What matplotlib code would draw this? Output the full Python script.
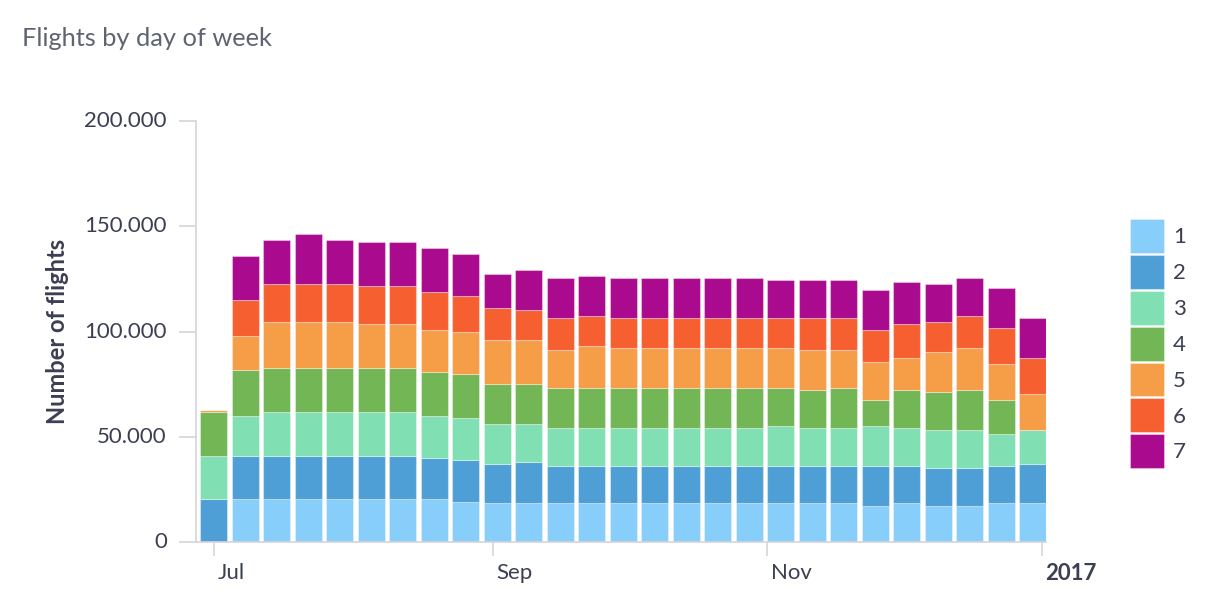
import numpy as np
import pandas as pd
import matplotlib
matplotlib.use("Agg")
import matplotlib.pyplot as plt
import matplotlib.dates as mdates
import matplotlib.transforms as mtrans
from matplotlib.ticker import FuncFormatter


#Data: weekly flight counts split by day of week (1..7)
weeks = pd.date_range("2016-07-01", periods=27, freq="7D")
days = ["1", "2", "3", "4", "5", "6", "7"]

day1 = [0, 20300, 20300, 20300, 20300, 20300, 20300, 20300, 19200, 18300, 18400, 18400, 18400, 18400,
        18400, 18400, 18400, 18400, 18400, 18400, 18400, 17300, 18400, 17300, 17300, 18400, 18400]
day2 = [20300, 20700, 20700, 20700, 20700, 20700, 20700, 19800, 19900, 18900, 19700, 17800, 17800, 17800,
        17800, 17800, 17800, 17800, 17800, 17800, 17800, 18900, 17800, 18000, 18000, 17800, 18800]
day3 = [20500, 19000, 20900, 20900, 20900, 20900, 20900, 19900, 19900, 19000, 18100, 18100, 18100, 18100,
        18100, 18100, 18100, 18100, 19100, 18100, 18100, 19100, 18100, 18000, 18000, 15200, 16100]
day4 = [21100, 21700, 20900, 20900, 20900, 20900, 20900, 20900, 21000, 19000, 19000, 19000, 19000, 19000,
        19000, 19000, 19000, 19000, 18000, 18100, 19000, 12300, 18100, 18100, 19100, 16200, 0]
day5 = [800, 16200, 21900, 21900, 21900, 20900, 20900, 20000, 19900, 20900, 20900, 18100, 20000, 19000,
        19000, 19000, 19000, 19000, 19000, 19000, 18100, 18100, 15200, 19000, 19900, 17100, 17200]
day6 = [0, 17100, 18000, 18000, 18000, 18100, 18100, 18000, 17100, 15200, 14300, 15200, 14200, 14300,
        14300, 14300, 14300, 14300, 14300, 15200, 15200, 15200, 16100, 14300, 15200, 17100, 17100]
day7 = [0, 20900, 20800, 23600, 20800, 20700, 20700, 20800, 19800, 16000, 18800, 18800, 18900, 18800,
        18800, 18800, 18800, 18800, 17900, 17900, 17900, 18800, 19800, 17900, 17900, 18900, 18800]

series = [day1, day2, day3, day4, day5, day6, day7]
colors = ["#87cefa", "#4e9fd6", "#80e0b4", "#72b656", "#f69d48", "#f65f30", "#aa0a8e"]

text_col = "#3b3f51"
axis_col = "#d4d4dc"

plt.rcParams["font.family"] = ["Lato", "DejaVu Sans"]

fig = plt.figure(figsize=(12.13, 6.14), dpi=100)
ax = fig.add_axes([196 / 1213, 1 - 542 / 614, 850 / 1213, 421 / 614])

#Stacked bars
bottom = np.zeros(len(weeks))
x = mdates.date2num(weeks)
for vals, col, name in zip(series, colors, days):
    vals = np.array(vals, dtype=float)
    ax.bar(x, vals, width=6.0, bottom=bottom, color=col, label=name,
           edgecolor=(1, 1, 1, 0.35), linewidth=0.8)
    bottom += vals

ax.set_xlim(mdates.date2num(pd.Timestamp("2016-06-27 02:00")), mdates.date2num(pd.Timestamp("2017-01-02")))
ax.set_ylim(0, 200000)

#Axes styling
for s in ["top", "right"]:
    ax.spines[s].set_visible(False)
ax.spines["left"].set_color(axis_col)
ax.spines["bottom"].set_color(axis_col)
ax.spines["left"].set_linewidth(1.2)
ax.spines["bottom"].set_linewidth(1.2)

ax.set_yticks([0, 50000, 100000, 150000, 200000])
ax.yaxis.set_major_formatter(FuncFormatter(lambda v, p: f"{int(v):,}".replace(",", ".")))
ax.tick_params(axis="y", length=12, width=1.2, color=axis_col, labelsize=16, labelcolor=text_col, pad=9)
up = mtrans.ScaledTranslation(0, 2 / 100, fig.dpi_scale_trans)
for lbl in ax.get_yticklabels():
    lbl.set_transform(lbl.get_transform() + up)

xt = [pd.Timestamp("2016-07-01"), pd.Timestamp("2016-09-01"), pd.Timestamp("2016-11-01"), pd.Timestamp("2017-01-01")]
ax.set_xticks(mdates.date2num(xt))
ax.set_xticklabels(["Jul", "Sep", "Nov", "2017"], ha="left")
ax.tick_params(axis="x", length=10, width=1.2, color=axis_col, labelsize=16, labelcolor=text_col, pad=5)
offset = mtrans.ScaledTranslation(4 / 100, 0, fig.dpi_scale_trans)
for lbl in ax.get_xticklabels():
    lbl.set_transform(lbl.get_transform() + offset)
    if lbl.get_text() == "2017":
        lbl.set_fontweight("bold")

ax.set_ylabel("Number of flights", fontsize=17, fontweight="bold", color=text_col)
ax.yaxis.set_label_coords(-0.149, 0.5)

fig.text(22 / 1213, 1 - 38 / 614, "Flights by day of week", fontsize=18.3, color="#5f6473", va="center", ha="left")

#Legend
fig.legend(loc="upper left", bbox_to_anchor=(1130 / 1213, 1 - 219 / 614), frameon=False,
           fontsize=16, handlelength=1.53, handleheight=1.97, labelspacing=0.09, handletextpad=0.4,
           borderpad=0, borderaxespad=0, labelcolor=text_col)

fig.savefig("out.png", dpi=100)
